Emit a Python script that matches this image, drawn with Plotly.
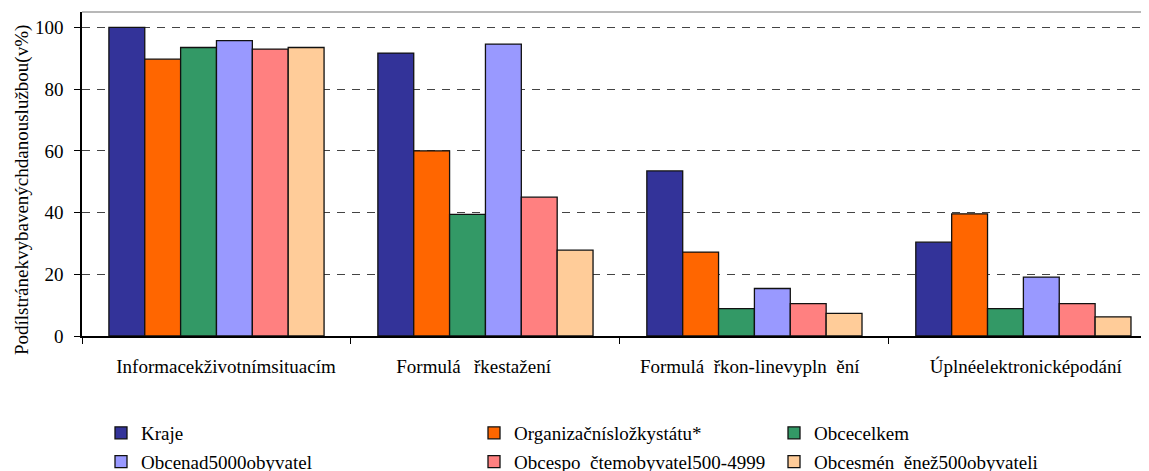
import plotly.graph_objects as go

NB = "\u00a0"
categories = [NB * 4 + "Informacekživotnímsituacím",
              "Formulá" + NB * 2 + "\u2009řkestažení" + NB * 5,
              "Formulá" + NB * 2 + "řkon-linevypln" + NB * 2 + "ění" + NB * 2,
              NB + "Úplnéelektronicképodání"]

series_names = ["Kraje", "Organizačnísložkystátu*", "Obcecelkem",
                "Obcenad5000obyvatel", "Obcespo" + NB * 2 + "čtemobyvatel500-4999",
                "Obcesmén" + NB * 2 + "ěnež500obyvateli"]

kraje = [100.0, 91.7, 53.5, 30.4]
organizacni = [89.7, 60.0, 27.2, 39.6]
obce_celkem = [93.5, 39.4, 8.9, 8.9]
obce_nad5000 = [95.7, 94.6, 15.4, 19.1]
obce_500_4999 = [93.0, 45.0, 10.5, 10.5]
obce_pod500 = [93.5, 27.8, 7.3, 6.2]

colors = ["#333399", "#FF6600", "#339966", "#9999FF", "#FF8080", "#FFCC99"]
legend_ids = ["legend", "legend2", "legend3", "legend", "legend2", "legend3"]

values = [kraje, organizacni, obce_celkem, obce_nad5000, obce_500_4999, obce_pod500]

FONT = "Liberation Serif, Times New Roman, serif"
W, H = 1149, 471

fig = go.Figure()
for i, (name, vals) in enumerate(zip(series_names, values)):
    fig.add_trace(go.Bar(
        x=categories, y=vals, name=name,
        marker=dict(color=colors[i], line=dict(color="#111111", width=1.3)),
        legend=legend_ids[i], legendgroup=name,
    ))

def leg(xpx):
    return dict(x=xpx / W, xref="container", y=1 - 406 / H, yref="container",
                xanchor="left", yanchor="top", orientation="v",
                font=dict(family=FONT, size=19, color="black"),
                bgcolor="rgba(0,0,0,0)", tracegroupgap=1)

fig.update_layout(
    width=W, height=H,
    margin=dict(l=74, r=8, t=4, b=143, autoexpand=False),
    paper_bgcolor="white", plot_bgcolor="white",
    barmode="group", bargap=0.2, bargroupgap=0,
    font=dict(family=FONT, size=19, color="black"),
    legend=leg(93), legend2=leg(466), legend3=leg(766),
    xaxis=dict(range=[-0.5, 3.467], showline=True, linecolor="black", linewidth=1.5,
               ticks="outside", tickson="boundaries", ticklen=6, tickcolor="black",
               showgrid=False, automargin=False, ticklabelstandoff=12,
               tickfont=dict(family=FONT, size=19, color="black")),
    yaxis=dict(range=[0, 105], tickvals=[0, 20, 40, 60, 80, 100], showline=True,
               linecolor="black", linewidth=1.5, ticks="outside", ticklen=6,
               tickcolor="black", showgrid=True, gridcolor="#444444", griddash="8px,7px",
               gridwidth=1, zeroline=False, automargin=False, ticklabelstandoff=7,
               tickfont=dict(family=FONT, size=19, color="black")),
    annotations=[dict(text="Podílstránekvybavenýchdanouslužbou(v%)", textangle=-90,
                      xref="paper", yref="paper", x=-60 / 1067, y=(336 - 190) / 324,
                      xanchor="center", yanchor="middle", showarrow=False,
                      font=dict(family=FONT, size=19, color="black"))],
    shapes=[dict(type="line", xref="x domain", yref="y domain", x0=0, x1=1, y0=1, y1=1,
                 line=dict(color="#A0A0A0", width=1.5))],
)

fig.write_html("out.html")
